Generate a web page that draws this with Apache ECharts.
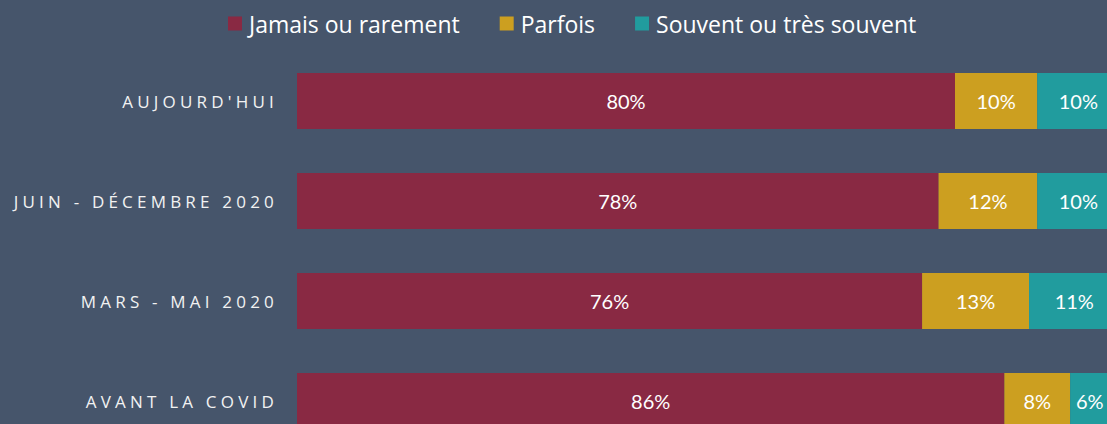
<!DOCTYPE html>
<html><head><meta charset="utf-8">
<script src="https://cdn.jsdelivr.net/npm/echarts@6/dist/echarts.min.js"></script>
<style>html,body{margin:0;padding:0;background:#46556B;overflow:hidden;} #c{width:1107px;height:424px;}</style>
</head><body><div id="c"></div>
<script>
const categories = ["AUJOURD'HUI", "JUIN - DÉCEMBRE 2020", "MARS - MAI 2020", "AVANT LA COVID"];
const seriesNames = ["Jamais ou rarement", "Parfois", "Souvent ou très souvent"];
const jamais = [80, 78, 76, 86];
const parfois = [10, 12, 13, 8];
const souvent = [10, 10, 11, 6];
const colors = ['#892943', '#CC9F20', '#219C9E'];

const chart = echarts.init(document.getElementById('c'), null, {renderer: 'svg'});
const labelStyle = {show: true, position: 'inside', color: '#FFFFFF', fontFamily: 'Lato', fontSize: 20, formatter: p => p.value + '%'};
function mk(name, data, color) {
  return {name, type: 'bar', stack: 'total', data, barWidth: 56, itemStyle: {color}, label: labelStyle, emphasis: {disabled: true}};
}
// keep the narrow last label fully inside the visible area
const souventData = souvent.map((v, i) => i === souvent.length - 1 ? {value: v, label: {offset: [-5, 0]}} : v);
chart.setOption({
  animation: false,
  backgroundColor: '#46556B',
  legend: {
    top: 7, left: 223, itemWidth: 14, itemHeight: 14, itemGap: 40, icon: 'rect',
    textStyle: {color: '#FFFFFF', fontFamily: 'Open Sans', fontSize: 23, padding: [0, 0, 0, 2]},
    data: seriesNames
  },
  grid: {left: 297, right: -12.5, top: 51, bottom: -27, containLabel: false, outerBoundsMode: 'none'},
  xAxis: {type: 'value', min: 0, max: 100, show: false},
  yAxis: {
    type: 'category', data: categories, inverse: true,
    axisLine: {show: false}, axisTick: {show: false}, splitLine: {show: false},
    axisLabel: {color: '#F2F2F2', fontFamily: 'Open Sans', fontSize: 17, margin: 19}
  },
  series: [mk(seriesNames[0], jamais, colors[0]), mk(seriesNames[1], parfois, colors[1]), mk(seriesNames[2], souventData, colors[2])]
});
function spaceLabels() {
  document.querySelectorAll('#c text').forEach(t => {
    if (categories.includes(t.textContent)) t.style.letterSpacing = '4.2px';
  });
}
chart.on('finished', spaceLabels);
spaceLabels();
setTimeout(spaceLabels, 30);
</script>
</body></html>
